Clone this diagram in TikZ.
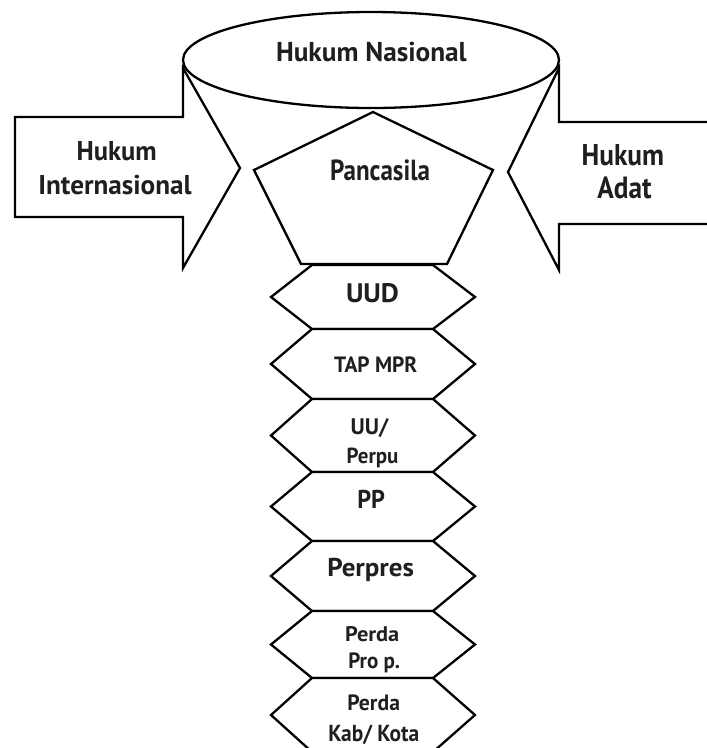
\documentclass[tikz,border=0pt]{standalone}
\usepackage{graphicx}
\usepackage{fontspec}
\setmainfont{PT Sans}
\newcommand\tlab[6]{\node[lbl] (#1) at (#2,#3) {\resizebox{#4pt}{#5pt}{\bfseries #6}};}
\begin{document}
\begin{tikzpicture}[x=1pt,y=-1pt,
  shapeline/.style={line width=2.3pt, line join=miter, draw=black, fill=white},
  lbl/.style={anchor=base west, inner sep=0pt, outer sep=0pt, text=black!88}]
\useasboundingbox (0,0) rectangle (707,748);
% left arrow
\draw[shapeline] (15,117) -- (183,117) -- (183,68) -- (240,168) -- (183,268) -- (183,217) -- (15,217) -- cycle;
% right arrow (runs off the right edge)
\fill[white] (712,122) -- (559,122) -- (559,68) -- (508,172) -- (559,270) -- (559,224) -- (712,224) -- cycle;
\draw[shapeline, fill=none] (712,122) -- (559,122) -- (559,68) -- (508,172) -- (559,270) -- (559,224) -- (712,224);
% ellipse
\draw[shapeline] (371,60) ellipse [x radius=188pt, y radius=48pt];
% pentagon
\draw[shapeline] (373,112) -- (493,170) -- (447,264) -- (301,264) -- (254,170) -- cycle;
% hexagons
\foreach \t/\b in {265/329, 329/399, 399/472, 472/541, 541/611, 611/678, 678/752}{
  \draw[shapeline] (312,\t) -- (433,\t) -- (475,{(\t+\b)/2}) -- (433,\b) -- (312,\b) -- (271,{(\t+\b)/2}) -- cycle;
}
% labels: name, left x, baseline y, width, height, text
\tlab{hn}{276}{61.7}{190.7}{19.4}{Hukum Nasional}
\tlab{hia}{76.7}{160}{80}{19}{Hukum}
\tlab{hib}{38.3}{194.3}{153.3}{19.3}{Internasional}
\tlab{haa}{581.7}{165}{82.3}{21}{Hukum}
\tlab{hab}{597.3}{198.3}{54.3}{21.6}{Adat}
\tlab{pc}{330}{180}{100}{20.7}{Pancasila}
\tlab{uud}{346}{302.3}{53}{19}{UUD}
\tlab{tap}{334}{372.3}{83.3}{15.7}{TAP MPR}
\tlab{uua}{350.7}{434.3}{37.7}{16}{UU/}
\tlab{uub}{346.7}{463.3}{51.7}{15.5}{Perpu}
\tlab{pp}{357.3}{508.3}{27.7}{18.3}{PP}
\tlab{prp}{327.3}{576.7}{86.7}{18.3}{Perpres}
\tlab{pda}{345}{641.7}{54.3}{15}{Perda}
\tlab{pdb}{348.3}{668.3}{51.7}{15.7}{Pro p.}
\tlab{pka}{347.3}{710.5}{52.7}{15.7}{Perda}
\tlab{pkb}{328.3}{741.8}{91}{16.5}{Kab/ Kota}
\end{tikzpicture}
\end{document}
